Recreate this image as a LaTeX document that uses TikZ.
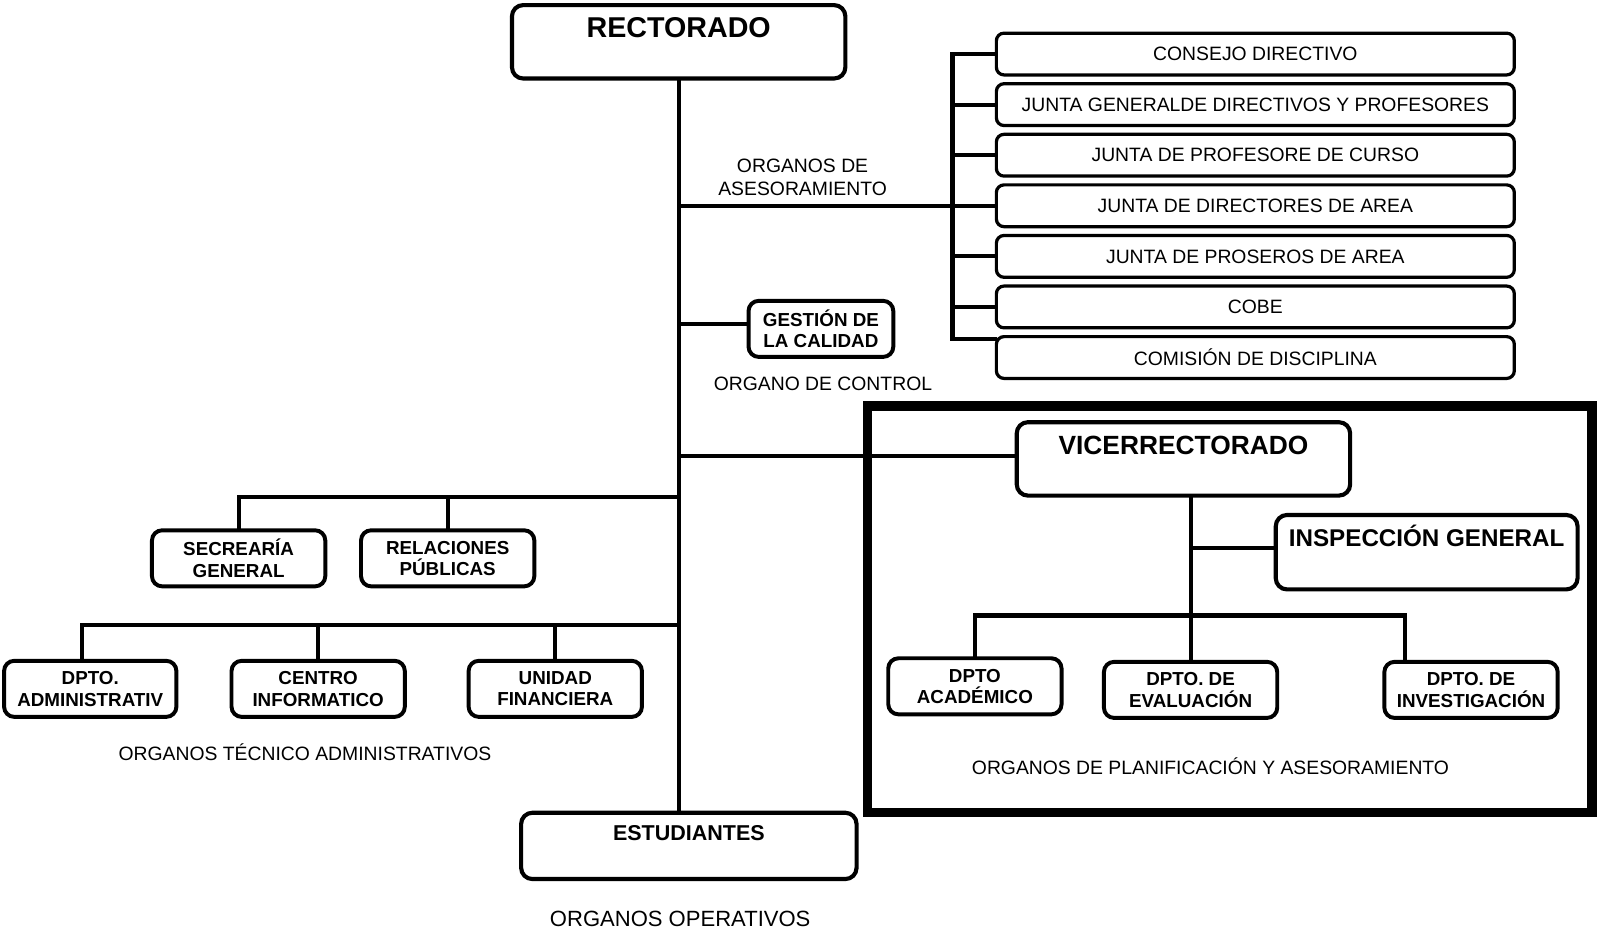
\documentclass[tikz,border=0pt]{standalone}
\usepackage{fontspec}
\setmainfont{Liberation Sans}
\usetikzlibrary{positioning,calc}

\begin{document}
\begin{tikzpicture}
[x=0.02cm, y=-0.02cm, line width=2.3pt, line cap=rect,
box/.style={rectangle, draw, rounded corners=0.2cm, line width=2.2pt, align=center, inner sep=0pt, font=\bfseries\fontsize{10.5}{12}\selectfont, minimum width=3.4cm, minimum height=1.1cm},
bigbox/.style={rectangle, draw, rounded corners=0.22cm, line width=2.3pt, minimum width=6.54cm, minimum height=1.44cm},
toptxt/.style={anchor=base, inner sep=0pt},
listbox/.style={rectangle, draw, rounded corners=0.15cm, line width=1.8pt, minimum width=10.16cm, minimum height=0.82cm, inner sep=0pt, font=\fontsize{10.8}{12}\selectfont},
note/.style={align=center, inner sep=0pt, font=\fontsize{10.8}{12.5}\selectfont}]

\useasboundingbox (0,0) rectangle (1568,915);

% rectorado y organos de asesoramiento
\node[bigbox, label={[toptxt, yshift=-0.67cm, font=\bfseries\fontsize{16}{18}\selectfont]north:RECTORADO}] (rect) at (665.5,41) {};

\foreach \t [count=\i] in {CONSEJO DIRECTIVO, JUNTA GENERALDE DIRECTIVOS Y PROFESORES, JUNTA DE PROFESORE DE CURSO, JUNTA DE DIRECTORES DE AREA, JUNTA DE PROSEROS DE AREA, COBE, COMISIÓN DE DISCIPLINA}
  \node[listbox] (j\i) at (1231,{3.4+49.6*\i}) {\t};

\coordinate (br) at (934,0);
\coordinate (brbot) at (934,332);
\draw (br |- j1.west) -- (brbot) -- (brbot -| j7.west);
\foreach \i in {1,...,6}
  \draw (br |- j\i.west) -- (j\i.west);
\draw (rect.south |- j4.west) -- (br |- j4.west);
\node[note] (aseso) at (787,174) {ORGANOS DE\\ASESORAMIENTO};

\node[box, minimum width=2.84cm] (gest) at (805,322.5) {GESTIÓN DE\\LA CALIDAD};
\coordinate (gw) at ($(gest.west)+(0,-5)$);
\draw (rect.south |- gw) -- (gw);
\node[note] (control) at (807,376) {ORGANO DE CONTROL};

% vicerrectorado
\draw[line width=5.2pt, line cap=butt] (851,398) rectangle (1561,797);
\node[bigbox, label={[toptxt, yshift=-0.68cm, font=\bfseries\fontsize{14.7}{16}\selectfont]north:VICERRECTORADO}] (vice) at (1160.5,450) {};
\coordinate (vw) at ($(vice.west)+(0,-3)$);
\draw (rect.south |- vw) -- (vw);

\node[bigbox, minimum width=5.92cm, minimum height=1.46cm, label={[toptxt, yshift=-0.66cm, font=\bfseries\fontsize{13.5}{16}\selectfont]north:INSPECCIÓN GENERAL}] (insp) at (1399,541.5) {};

\node[box] (acad) at (956,673) {DPTO\\ACADÉMICO};
\node[box] (eval) at (1167.5,676.5) {DPTO. DE\\EVALUACIÓN};
\node[box] (inv) at (1442.5,676.5) {DPTO. DE\\INVESTIGACIÓN};

\coordinate (iw) at ($(insp.west)+(0,-4.5)$);
\draw (eval.north |- vice.south) -- (eval.north);
\draw (eval.north |- iw) -- (iw);
\draw (acad.north) -- ++(0,-40) -| ($(inv.north west)+(22,0)$);
\node[note] (plan) at (1187,751) {ORGANOS DE PLANIFICACIÓN Y ASESORAMIENTO};

% organos tecnico administrativos
\coordinate (jt1) at (rect.south |- 0,487);
\coordinate (jt2) at (rect.south |- 0,613);

\node[box] (secr) at (234,547.5) {SECREARÍA\\GENERAL};
\node[box] (rel) at (439,547.5) {RELACIONES\\PÚBLICAS};
\draw (secr.north) |- (jt1);
\draw (rel.north) -- (rel.north |- jt1);

\node[box, minimum width=3.38cm] (adm) at (88.5,675.5) {DPTO.\\ADMINISTRATIV};
\node[box] (cen) at (312,675.5) {CENTRO\\INFORMATICO};
\node[box] (fin) at (544.5,675.5) {UNIDAD\\FINANCIERA};
\coordinate (an) at ($(adm.north)+(-8.5,0)$);
\draw (an) |- (jt2);
\draw (cen.north) -- (cen.north |- jt2);
\draw (fin.north) -- (fin.north |- jt2);
\node[note] (tecn) at (299,738) {ORGANOS TÉCNICO ADMINISTRATIVOS};

% organos operativos
\node[bigbox, minimum width=6.58cm, minimum height=1.3cm, label={[toptxt, yshift=-0.59cm, font=\bfseries\fontsize{12}{14}\selectfont]north:ESTUDIANTES}] (est) at (675.5,829.5) {};
\draw (rect.south) -- (rect.south |- est.north);
\node[note, font=\fontsize{12.3}{14}\selectfont] (oper) at (667,901) {ORGANOS OPERATIVOS};
\end{tikzpicture}
\end{document}
